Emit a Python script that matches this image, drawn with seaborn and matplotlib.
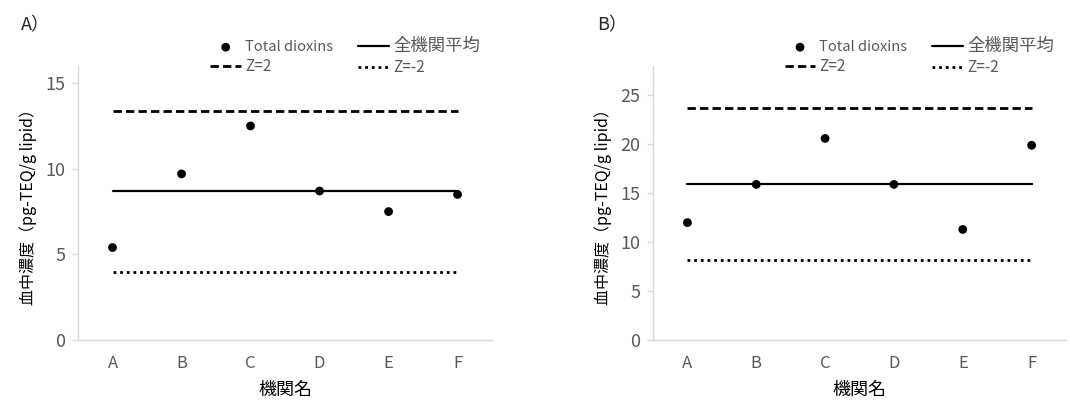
import seaborn as sns
import matplotlib.pyplot as plt
import pandas as pd

# data
labs = ["A", "B", "C", "D", "E", "F"]
totalA = [5.4, 9.7, 12.5, 8.7, 7.5, 8.5]
meanA = 8.7
z2A = 13.4
zm2A = 4.0
totalB = [12.0, 15.9, 20.6, 15.9, 11.3, 19.9]
meanB = 15.9
z2B = 23.7
zm2B = 8.2

sns.set_theme(style="white")
plt.rcParams['font.family'] = ['Noto Sans CJK JP', 'DejaVu Sans']

grey = "#595959"
fig = plt.figure(figsize=(10.7, 4.07), dpi=100)
axA = fig.add_axes([0.0729, 0.1646, 0.387, 0.6732])
axB = fig.add_axes([0.6103, 0.1646, 0.386, 0.6732])


def panel(ax, total, mean, z2, zm2, ymax, yticks):
    df = pd.DataFrame({"lab": labs, "total": total,
                       "mean": [mean] * 6, "z2": [z2] * 6, "zm2": [zm2] * 6})
    sns.scatterplot(data=df, x="lab", y="total", ax=ax, color="black",
                    s=40, edgecolor="none", label="Total dioxins", zorder=4)
    sns.lineplot(data=df, x="lab", y="mean", ax=ax, color="black",
                 linewidth=1.6, label="全機関平均")
    sns.lineplot(data=df, x="lab", y="z2", ax=ax, color="black",
                 linewidth=2.0, linestyle=(0, (3, 1.5)), label="Z=2")
    sns.lineplot(data=df, x="lab", y="zm2", ax=ax, color="black",
                 linewidth=2.0, linestyle=(0, (1, 1.4)), label="Z=-2")
    ax.set_xlim(-0.5, 5.5)
    ax.set_ylim(0, ymax)
    ax.set_yticks(yticks)
    sns.despine(ax=ax)
    for s in ["left", "bottom"]:
        ax.spines[s].set_color("#d9d9d9")
        ax.spines[s].set_linewidth(1)
    ax.tick_params(axis="x", length=0, pad=11, labelsize=12, labelcolor=grey)
    ax.tick_params(axis="y", left=True, length=4, width=1, color="#d9d9d9",
                   pad=5, labelsize=13, labelcolor=grey)
    ax.set_xlabel("機関名", fontsize=13, color="black", labelpad=6)
    ax.set_ylabel("血中濃度（pg-TEQ/g lipid）", fontsize=11.5, color="black", labelpad=6)

    h, l = ax.get_legend_handles_labels()
    order = [0, 2, 1, 3]
    leg = ax.legend([h[i] for i in order], [l[i] for i in order], ncol=2,
                    loc="center", bbox_to_anchor=(0.645, 1.035), frameon=False,
                    fontsize=10, handlelength=2.2, handletextpad=0.3,
                    columnspacing=1.8, labelspacing=0.3, borderaxespad=0)
    sizes = [10.5, 11, 12.5, 11]
    for t, fs in zip(leg.get_texts(), sizes):
        t.set_color(grey)
        t.set_fontsize(fs)


panel(axA, totalA, meanA, z2A, zm2A, 16, [0, 5, 10, 15])
panel(axB, totalB, meanB, z2B, zm2B, 28, [0, 5, 10, 15, 20, 25])

fig.text(0.02, 0.938, "A）", fontsize=13, va="center")
fig.text(0.558, 0.938, "B）", fontsize=13, va="center")

plt.savefig("out.png", dpi=100)
